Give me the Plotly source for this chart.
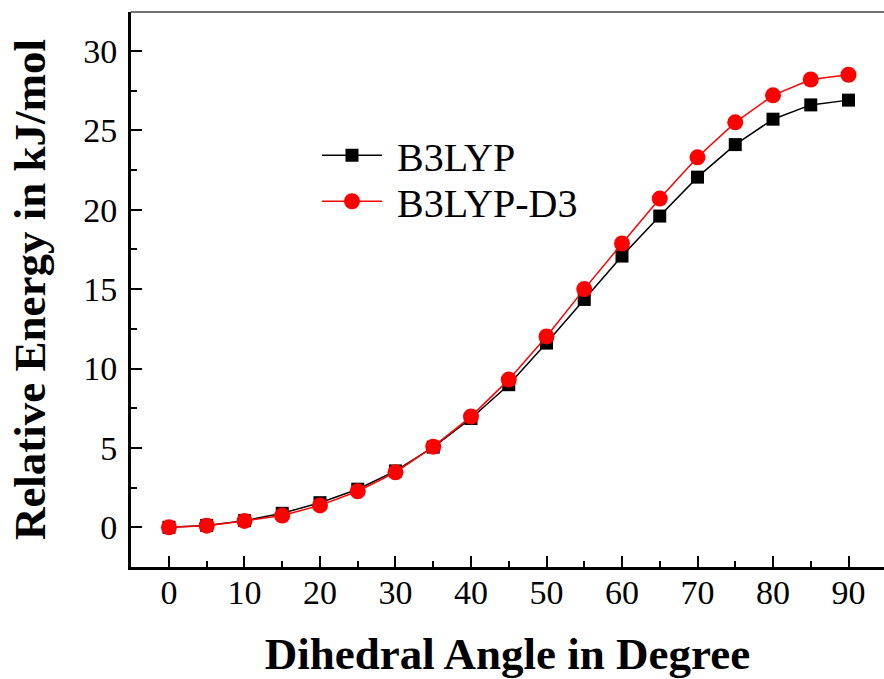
import plotly.graph_objects as go

angle = [0, 5, 10, 15, 20, 25, 30, 35, 40, 45, 50, 55, 60, 65, 70, 75, 80, 85, 90]
b3lyp = [0.0, 0.12, 0.42, 0.88, 1.55, 2.4, 3.55, 5.05, 6.85, 8.98, 11.6, 14.35, 17.08, 19.6, 22.05, 24.1, 25.7, 26.6, 26.9]
b3lyp_d3 = [0.0, 0.1, 0.4, 0.74, 1.38, 2.27, 3.46, 5.08, 6.97, 9.3, 12.02, 15.0, 17.87, 20.7, 23.3, 25.5, 27.2, 28.2, 28.5]

x_ticks = [0, 10, 20, 30, 40, 50, 60, 70, 80, 90]
y_ticks = [0, 5, 10, 15, 20, 25, 30]

font_family = "Liberation Serif"

fig = go.Figure()
fig.add_trace(go.Scatter(
    x=angle, y=b3lyp, mode="lines+markers", name="\u00a0B3LYP", legend="legend",
    line=dict(color="black", width=1.5),
    marker=dict(symbol="square", size=13, color="black"),
))
fig.add_trace(go.Scatter(
    x=angle, y=b3lyp_d3, mode="lines+markers", name="\u00a0B3LYP-D3", legend="legend2",
    line=dict(color="#ff0000", width=1.5),
    marker=dict(symbol="circle", size=16, color="#ff0000"),
))

axis_common = dict(
    showgrid=False, zeroline=False, showline=True, linecolor="black", linewidth=3,
    ticks="inside", tickcolor="black", tickwidth=2, ticklen=11,
    tickfont=dict(family=font_family, size=34, color="black"),
)

fig.update_xaxes(
    range=[-5.03, 94.7], tickvals=x_ticks, ticktext=[str(v) for v in x_ticks],
    minor=dict(dtick=5, tick0=0, ticks="inside", ticklen=6, tickwidth=2, tickcolor="black"),
    title=dict(text="<b>Dihedral Angle in Degree</b>",
               font=dict(family=font_family, size=45, color="black"), standoff=28),
    ticklabelstandoff=-7,
    **axis_common,
)
fig.update_yaxes(
    range=[-2.5, 32.45], tickvals=y_ticks, ticktext=[str(v) for v in y_ticks],
    minor=dict(dtick=2.5, tick0=0, ticks="inside", ticklen=6, tickwidth=2, tickcolor="black"),
    title=dict(text="<b>Relative Energy in kJ/mol</b>",
               font=dict(family=font_family, size=45, color="black"), standoff=24),
    ticklabelstandoff=4,
    **axis_common,
)

fig.add_shape(type="line", xref="paper", yref="paper", x0=0, x1=1, y0=1, y1=1,
              line=dict(color="#444444", width=1.5))

legend_style = dict(xanchor="left", yanchor="middle",
                    font=dict(family=font_family, size=40, color="black"),
                    bgcolor="rgba(0,0,0,0)", itemwidth=60)

fig.update_layout(
    width=884, height=679,
    margin=dict(l=131, r=0, t=12, b=112),
    paper_bgcolor="white", plot_bgcolor="white",
    font=dict(family=font_family, color="black"),
    showlegend=True,
    legend=dict(x=0.247, y=0.742, **legend_style),
    legend2=dict(x=0.247, y=0.659, **legend_style),
)

fig.write_html("out.html")
